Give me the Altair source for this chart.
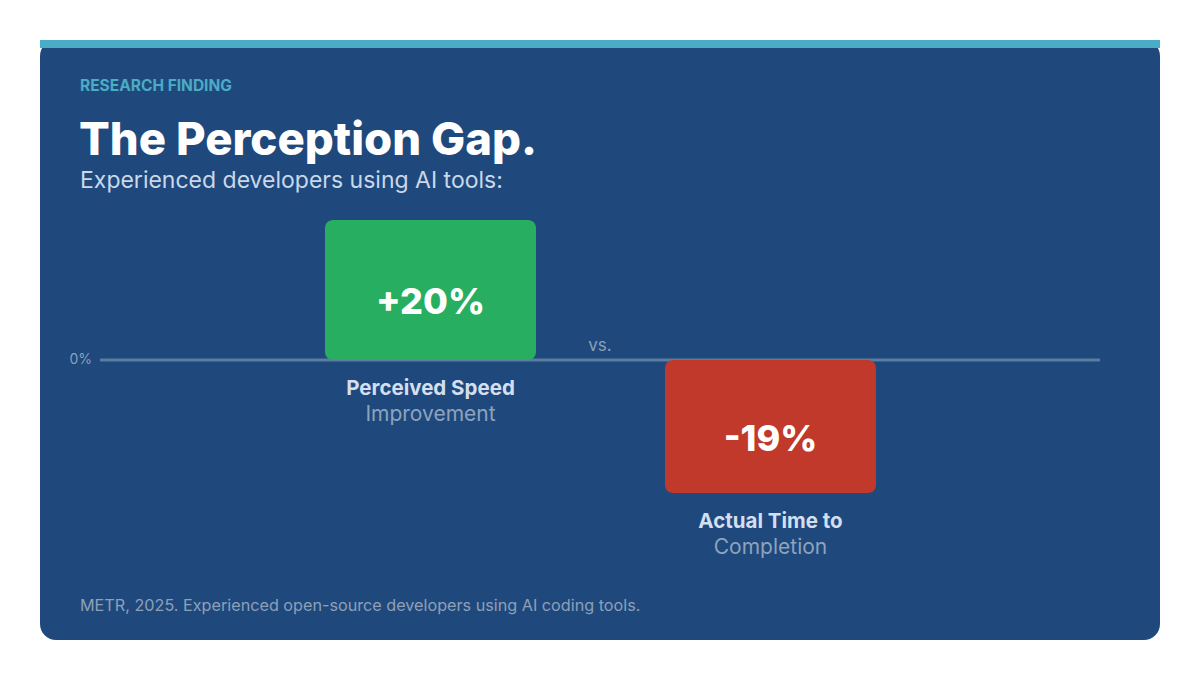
import altair as alt
import pandas as pd

# ---- data ----
categories = ["Perceived Speed", "Actual Time to"]
sub_labels = ["Improvement", "Completion"]
values = [20, -19]
value_labels = ["+20%", "-19%"]
bar_colors = ["#27AE60", "#C0392B"]

df = pd.DataFrame({
    "cat": categories,
    "sub": sub_labels,
    "v": values,
    "lbl": value_labels,
    "col": bar_colors,
})
df["mid"] = df["v"] / 2
df["low"] = df["v"].clip(upper=0)
df["zero"] = 0

W, H = 1184, 664
OX, OY = 8, 8  # page margin

CARD = "#1F497D"
TEAL = "#4BACC6"
FONT = "Inter"

xscale = alt.Scale(domain=categories, range=[252.5, 932.5],
                   paddingInner=0.3794, paddingOuter=0.1897)
yscale = alt.Scale(domain=[0, 20], range=[352, 212])

base = alt.Chart(df)
one = alt.Chart(pd.DataFrame({"a": [0], "z": [0]}))

card = one.mark_rect(color=CARD, cornerRadius=16).encode(
    x=alt.value(40 - OX), x2=alt.value(1160 - OX),
    y=alt.value(40 - OY), y2=alt.value(640 - OY))
stripe = one.mark_rect(color=TEAL).encode(
    x=alt.value(40 - OX), x2=alt.value(1160 - OX),
    y=alt.value(40 - OY), y2=alt.value(48 - OY))

def txt(text, x, y, size, color, weight="normal", align="left", baseline="middle", font=FONT):
    return one.mark_text(text=text, fontSize=size, color=color, fontWeight=weight,
                         align=align, baseline=baseline, font=font).encode(
        x=alt.value(x - OX), y=alt.value(y - OY))

kicker = txt("RESEARCH FINDING", 80, 86, 15.5, TEAL, weight="bold")
title = txt("The Perception Gap.", 79, 155, 45.5, "#FFFFFF", weight=800, baseline="alphabetic")
subtitle = txt("Experienced developers using AI tools:", 80, 181, 23, "#C9D8EA")
footer = txt("METR, 2025. Experienced open-source developers using AI coding tools.",
             80, 606, 16.2, "#8DA0B8")
zero = txt("0%", 92, 360, 14, "#8DA0B8", align="right")
vs = txt("vs.", 600, 346, 17, "#8DA0B8", align="center")

baseline_rule = one.mark_rule(color="#5B7DA0", strokeWidth=3).encode(
    x=alt.value(100 - OX), x2=alt.value(1100 - OX),
    y=alt.Y("z:Q", scale=yscale, axis=None))

bars = base.mark_bar(cornerRadius=8).encode(
    x=alt.X("cat:N", scale=xscale, axis=None, sort=categories),
    y=alt.Y("v:Q", scale=yscale, axis=None),
    y2="zero:Q",
    color=alt.Color("col:N", scale=None, legend=None),
)

val_text = base.mark_text(font=FONT, fontSize=36, fontWeight=800, color="#FFFFFF",
                          baseline="middle", dy=13).encode(
    x=alt.X("cat:N", scale=xscale, axis=None, sort=categories),
    y=alt.Y("mid:Q", scale=yscale, axis=None),
    text="lbl:N",
)

cat_text = base.mark_text(font=FONT, fontSize=20.5, fontWeight="bold", color="#D3DFEE",
                          baseline="middle", dy=29).encode(
    x=alt.X("cat:N", scale=xscale, axis=None, sort=categories),
    y=alt.Y("low:Q", scale=yscale, axis=None),
    text="cat:N",
)
sub_text = base.mark_text(font=FONT, fontSize=21, color="#8DA3BD",
                          baseline="middle", dy=55).encode(
    x=alt.X("cat:N", scale=xscale, axis=None, sort=categories),
    y=alt.Y("low:Q", scale=yscale, axis=None),
    text="sub:N",
)

chart = alt.layer(
    card, stripe, kicker, title, subtitle, footer, zero, vs,
    baseline_rule, bars, val_text, cat_text, sub_text,
).properties(
    width=W, height=H,
    autosize=alt.AutoSizeParams(type="none"),
    padding=0,
    background="#FFFFFF",
).configure_view(stroke=None)

chart.save("out.html", embed_options={"renderer": "svg", "actions": False})
